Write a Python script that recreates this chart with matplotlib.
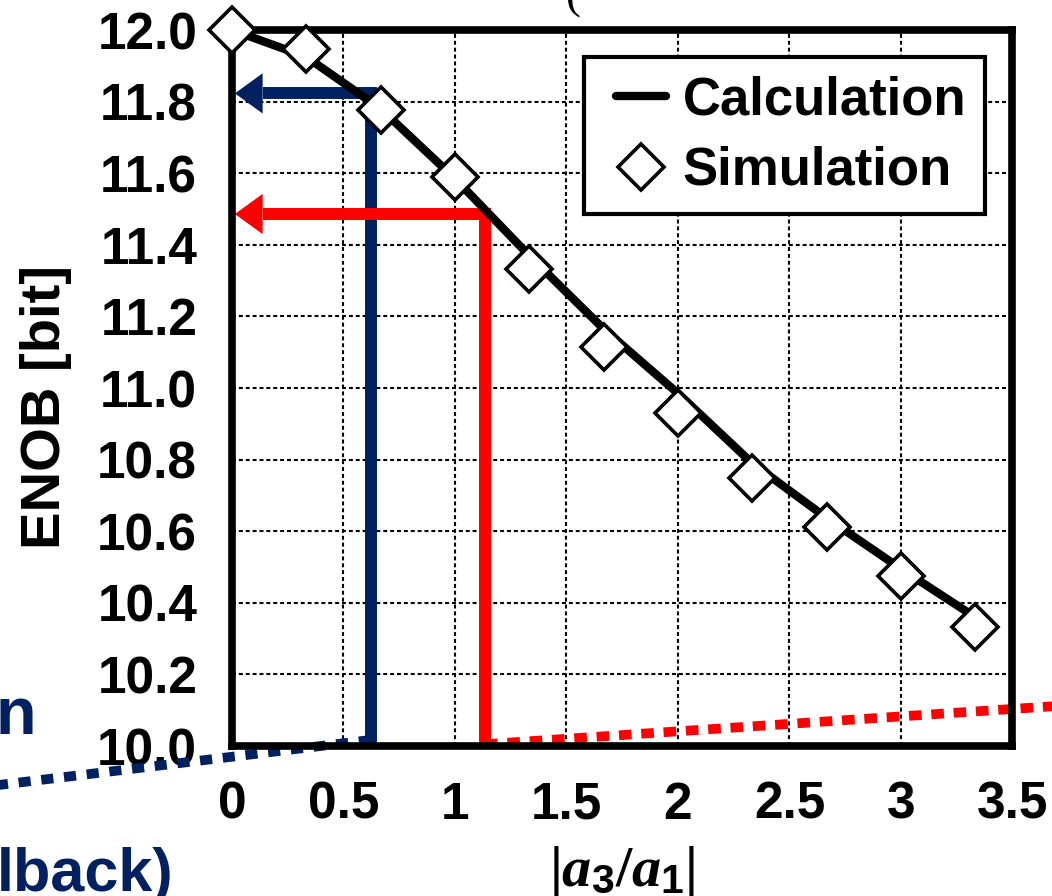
#!/usr/bin/env python3
# -*- coding: utf-8 -*-
"""ENOB versus third-order distortion ratio |a3/a1|."""

import matplotlib as mpl
mpl.use("Agg")
import matplotlib.pyplot as plt
from matplotlib.lines import Line2D
from matplotlib.legend_handler import HandlerLine2D

plt.rcParams.update({
    "font.family": "Liberation Sans",
    "font.weight": "bold",
    "axes.labelweight": "bold",
    "mathtext.fontset": "custom",
    "mathtext.it": "Liberation Serif:italic:bold",
    "mathtext.bf": "Liberation Sans:bold",
    "mathtext.rm": "Liberation Serif",
})

NAVY = "#002060"
RED = "#FF0000"

# distortion sweep and resulting ENOB
ratio = [0.0, 0.333, 0.667, 1.0, 1.333, 1.667, 2.0, 2.333, 2.667, 3.0, 3.333]
enob_calc = [12.00, 11.925, 11.78, 11.585, 11.37, 11.165, 10.985, 10.79,
             10.637, 10.495, 10.36]
enob_sim = [12.00, 11.948, 11.777, 11.589, 11.332, 11.115, 10.93, 10.749,
            10.612, 10.475, 10.332]

# two operating points read back on the ENOB axis
navy_ratio, navy_enob = 0.623, 11.823
red_ratio, red_enob = 1.135, 11.486

# guide lines running out of the plot
navy_guide_x = [0.623, -1.1]
navy_guide_y = [10.017, 9.887]
red_guide_x = [1.135, 3.8]
red_guide_y = [10.005, 10.116]

xticks = [0, 0.5, 1, 1.5, 2, 2.5, 3, 3.5]
xticklabels = ["0", "0.5", "1", "1.5", "2", "2.5", "3", "3.5"]
yticks = [10.0, 10.2, 10.4, 10.6, 10.8, 11.0, 11.2, 11.4, 11.6, 11.8, 12.0]

fig = plt.figure(figsize=(10.52, 8.96), dpi=100)
ax = fig.add_axes([0.2205, 0.1674, 0.7419, 0.7991])

ax.set_xlim(0, 3.5)
ax.set_ylim(10.0, 12.0)
ax.set_xticks(xticks)
ax.set_xticklabels(xticklabels)
ax.set_yticks(yticks)
ax.set_yticklabels([f"{v:.1f}" for v in yticks])
ax.tick_params(length=0, pad=25, labelsize=37)
ax.grid(True, color="black", lw=1.5, linestyle=(0, (1.9, 1.4)), zorder=0)
ax.set_axisbelow(True)
for sp in ax.spines.values():
    sp.set_linewidth(5.5)
    sp.set_zorder(2.5)

# read-back arrows
head_len = 0.126
for xr, yr, col in [(navy_ratio, navy_enob, NAVY), (red_ratio, red_enob, RED)]:
    ax.plot([xr, xr, 0.013 + head_len], [10.0, yr, yr], color=col, lw=8.6,
            solid_joinstyle="miter", solid_capstyle="butt", zorder=2)
    ax.annotate("", xy=(0.013, yr), xytext=(0.013 + head_len, yr),
                arrowprops=dict(arrowstyle="-|>,head_length=2.0,head_width=1.45",
                                lw=0, color=col, shrinkA=0, shrinkB=0,
                                mutation_scale=10), zorder=2)

ax.plot(navy_guide_x, navy_guide_y, color=NAVY, lw=7,
        linestyle=(0, (1.25, 1.1)), dash_capstyle="butt",
        clip_on=False, zorder=2)
ax.plot(red_guide_x, red_guide_y, color=RED, lw=7,
        linestyle=(0, (1.3, 1.0)), dash_capstyle="butt",
        clip_on=False, zorder=2)

ax.plot(ratio, enob_calc, color="black", lw=6, solid_capstyle="round",
        label="Calculation", zorder=3)
ax.plot(ratio, enob_sim, linestyle="none", marker="D", ms=23, mew=2.6,
        mfc="white", mec="black", label="Simulation", clip_on=False,
        zorder=4)

leg = ax.legend(loc="upper right", fontsize=38, frameon=True,
                fancybox=False, edgecolor="black", framealpha=1,
                borderaxespad=0.52, borderpad=0.35, handlelength=1.2,
                handletextpad=0.32, labelspacing=0.38, numpoints=1,
                handler_map={Line2D: HandlerLine2D(xpad=0.25)})
leg.get_frame().set_linewidth(3)

ax.set_ylabel("ENOB [bit]", fontsize=40.5, fontweight="bold")
ax.yaxis.set_label_coords(-0.2055, 0.473)
ax.set_xlabel(r"$|\mathit{a}_{\mathbf{3}}\mathit{/a}_{\mathbf{1}}|$",
              fontsize=42)
ax.xaxis.set_label_coords(0.5, -0.137)

# fragments of neighbouring annotations
fig.text(0.034, 0.181, "n", color=NAVY, fontsize=48, ha="right",
         va="baseline")
fig.text(0.165, 0.0056, "lback)", color=NAVY, fontsize=44, ha="right",
         va="baseline")
fig.text(566 / 1052, 1 - 18 / 896, "(", fontsize=32, fontweight="normal",
         family="Liberation Serif", ha="left", va="bottom")

fig.savefig("out.png", dpi=100)
